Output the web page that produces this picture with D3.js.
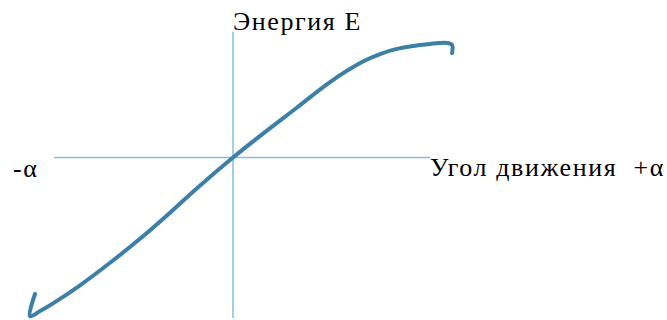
<!DOCTYPE html>
<html>
<head>
<meta charset="utf-8">
<script src="https://cdn.jsdelivr.net/npm/d3@7"></script>
<style>
  body { margin: 0; background: #fff; }
</style>
</head>
<body>
<div id="chart"></div>
<script>
var width = 667;
var height = 320;

// curve: angle (alpha) vs energy E
var alphaValues = [-1.1, -1.128, -1.072, -0.978, -0.85, -0.683, -0.517, -0.35, -0.2, 0, 0.167, 0.356, 0.539, 0.722, 0.817, 0.911, 1.094, 1.189, 1.217, 1.217];
var energyValues = [-0.975, -1.133, -1.097, -1.024, -0.913, -0.752, -0.581, -0.394, -0.219, 0, 0.171, 0.357, 0.539, 0.685, 0.739, 0.776, 0.811, 0.818, 0.804, 0.746];

var xAxisExtent = [-0.994, 1.094];
var yAxisExtent = [-1.146, 0.896];

var yLabel = "Энергия Е";
var xLabel = "Угол движения  +α";
var xLabelNeg = "-α";

var svg = d3.select("#chart")
            .append("svg")
            .attr("width", width)
            .attr("height", height);

var xScale = d3.scaleLinear()
               .domain([-1, 1])
               .range([53, 413]);
var yScale = d3.scaleLinear()
               .domain([-1, 1])
               .range([297.5, 17.5]);

// axes
svg.append("line")
   .attr("x1", xScale(xAxisExtent[0]))
   .attr("x2", xScale(xAxisExtent[1]))
   .attr("y1", yScale(0))
   .attr("y2", yScale(0))
   .attr("stroke", "#86bde2")
   .attr("stroke-width", 1.5);
svg.append("line")
   .attr("x1", xScale(0))
   .attr("x2", xScale(0))
   .attr("y1", yScale(yAxisExtent[1]))
   .attr("y2", yScale(yAxisExtent[0]))
   .attr("stroke", "#86bde2")
   .attr("stroke-width", 1.5);

var points = alphaValues.map(function(a, i){
  return {a: a, e: energyValues[i]};
});

var line = d3.line()
             .x(function(d){ return xScale(d.a); })
             .y(function(d){ return yScale(d.e); })
             .curve(d3.curveCatmullRom.alpha(0.5));

svg.append("path")
   .datum(points)
   .attr("d", line)
   .attr("fill", "none")
   .attr("stroke", "#3c7fa7")
   .attr("stroke-width", 4)
   .attr("stroke-linecap", "round")
   .attr("stroke-linejoin", "round");

// labels
var fontFam = "'Liberation Serif', 'DejaVu Serif', serif";
svg.append("text")
   .attr("x", xScale(0))
   .attr("y", 30)
   .attr("font-family", fontFam)
   .attr("font-size", 26)
   .attr("letter-spacing", 1.6)
   .text(yLabel);
svg.append("text")
   .attr("x", xScale(xAxisExtent[1]))
   .attr("y", 176)
   .attr("font-family", fontFam)
   .attr("font-size", 26)
   .attr("letter-spacing", 1.6)
   .attr("xml:space", "preserve")
   .style("white-space", "pre")
   .text(xLabel);
svg.append("text")
   .attr("x", 13)
   .attr("y", 177)
   .attr("font-family", fontFam)
   .attr("font-size", 26)
   .attr("letter-spacing", 1.6)
   .text(xLabelNeg);
</script>
</body>
</html>
